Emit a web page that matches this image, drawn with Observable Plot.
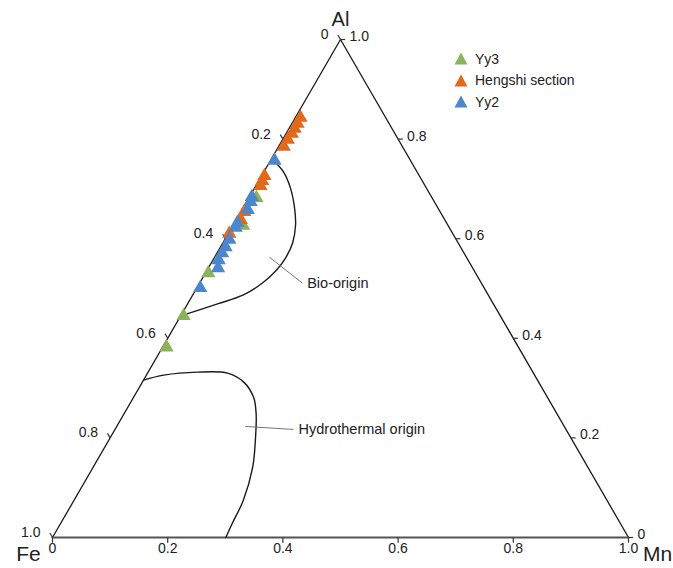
<!DOCTYPE html>
<html>
<head>
<meta charset="utf-8">
<script src="https://cdn.jsdelivr.net/npm/d3@7"></script>
<script src="https://cdn.jsdelivr.net/npm/@observablehq/plot@0.6"></script>
<style>
  html, body { margin: 0; padding: 0; background: #fff; }
  #wrap { position: relative; width: 673px; height: 568px; font-family: "Liberation Sans", Arial, sans-serif; }
  #legend { position: absolute; left: 454px; top: 48px; font-size: 14px; color: #222; }
  #legend .item { display: flex; align-items: center; height: 21.5px; }
  #legend svg { margin-right: 7px; }
</style>
</head>
<body>
<div id="wrap"><div id="legend"></div></div>
<script>
// ---- data (ternary compositions: Al and Mn fractions; Fe = 1 - Al - Mn) ----
const seriesNames = ["Yy3", "Hengshi section", "Yy2"];
const seriesColors = ["#8db35a", "#e2691b", "#4c86cc"];

const yy3Al = [0.382, 0.445, 0.531, 0.626, 0.682];
const yy3Mn = [0.007, 0.005, 0.005, 0.018, 0.013];

const hengshiAl = [0.843, 0.831, 0.821, 0.811, 0.799, 0.785, 0.726, 0.716, 0.706, 0.654, 0.638, 0.610];
const hengshiMn = [0.009, 0.010, 0.010, 0.010, 0.009, 0.009, 0.005, 0.006, 0.008, 0.006, 0.008, 0.002];

const yy2Al = [0.757, 0.684, 0.674, 0.658, 0.632, 0.622, 0.598, 0.583, 0.571, 0.557, 0.541, 0.501];
const yy2Mn = [0.007, 0.004, 0.007, 0.010, 0.005, 0.007, 0.008, 0.009, 0.009, 0.010, 0.017, 0.006];

// field boundaries
const bioAl = [0.761, 0.734, 0.702, 0.664, 0.628, 0.592, 0.561, 0.535, 0.511, 0.487, 0.469, 0.445];
const bioMn = [0.000, 0.034, 0.062, 0.088, 0.108, 0.121, 0.124, 0.120, 0.109, 0.088, 0.052, 0.000];

const hydroAl = [0.316, 0.326, 0.332, 0.330, 0.312, 0.282, 0.249, 0.201, 0.141, 0.074, 0.028, 0.000];
const hydroMn = [0.000, 0.030, 0.086, 0.139, 0.176, 0.208, 0.229, 0.252, 0.277, 0.294, 0.298, 0.301];

// annotation leaders and labels
const annoText = ["Bio-origin", "Hydrothermal origin"];
const annoFromAl = [0.563, 0.223], annoFromMn = [0.095, 0.223];
const annoToAl = [0.511, 0.217], annoToMn = [0.178, 0.310];

const tickValues = [0, 0.2, 0.4, 0.6, 0.8, 1.0];
const tickLabels = ["0", "0.2", "0.4", "0.6", "0.8", "1.0"];
const cornerNames = ["Fe", "Mn", "Al"];

// ---- ternary projection ----
const S3 = Math.sqrt(3) / 2;
const px = (al, mn) => mn + al / 2;
const py = (al) => al * S3;

const points = [];
[[yy3Al, yy3Mn], [hengshiAl, hengshiMn], [yy2Al, yy2Mn]].forEach(([A, M], i) => {
  A.forEach((a, j) => points.push({series: seriesNames[i], Al: a, Mn: M[j], Fe: 1 - a - M[j], x: px(a, M[j]), y: py(a)}));
});
const bio = bioAl.map((a, i) => ({x: px(a, bioMn[i]), y: py(a)}));
const hydro = hydroAl.map((a, i) => ({x: px(a, hydroMn[i]), y: py(a)}));

const corners = [{x: 0, y: 0}, {x: 1, y: 0}, {x: 0.5, y: S3}];
const sides = [corners[0], corners[2], corners[1]];
const bottom = [corners[0], corners[1]];

const L = 0.009; // tick length (data units)
const bottomTicks = tickValues.map((t, i) => ({x: t, y: 0, x2: t, y2: -L, label: tickLabels[i]}));
// left edge: Fe fraction (0 at top -> 1 at bottom)
const leftTicks = tickValues.map((t, i) => {
  const al = 1 - t; const x = px(al, 0), y = py(al);
  return {x, y, x2: x - 0.5 * L, y2: y + S3 * L, label: tickLabels[i]};
});
// right edge: Al fraction
const rightTicks = tickValues.map((t, i) => {
  const x = px(t, 1 - t), y = py(t);
  return {x, y, x2: x + L * 0.9, y2: y, label: tickLabels[i]};
});

const annos = annoText.map((s, i) => ({
  text: s,
  x1: px(annoFromAl[i], annoFromMn[i]), y1: py(annoFromAl[i]),
  x2: px(annoToAl[i], annoToMn[i]), y2: py(annoToAl[i])
}));

const font = "Liberation Sans, Arial, sans-serif";

const chart = Plot.plot({
  width: 673,
  height: 568,
  marginLeft: 52,
  marginRight: 45,
  marginTop: 39,
  marginBottom: 31,
  style: {fontFamily: font, background: "white", overflow: "visible"},
  x: {domain: [0, 1], axis: null},
  y: {domain: [0, S3], axis: null},
  color: {domain: seriesNames, range: seriesColors},
  marks: [
    Plot.line(sides, {x: "x", y: "y", stroke: "#1a1a1a", strokeWidth: 1.3}),
    Plot.line(bottom, {x: "x", y: "y", stroke: "#555", strokeWidth: 2}),
    Plot.link(bottomTicks, {x1: "x", y1: "y", x2: "x2", y2: "y2", stroke: "#333", strokeWidth: 1.2}),
    Plot.link(leftTicks, {x1: "x", y1: "y", x2: "x2", y2: "y2", stroke: "#333", strokeWidth: 1.2}),
    Plot.link(rightTicks, {x1: "x", y1: "y", x2: "x2", y2: "y2", stroke: "#333", strokeWidth: 1.2}),
    Plot.text(bottomTicks, {x: "x", y: "y", text: "label", dy: 11, fontSize: 14, fill: "#222"}),
    Plot.text(leftTicks, {x: "x", y: "y", text: "label", dx: -12, dy: -5, textAnchor: "end", fontSize: 14, fill: "#222"}),
    Plot.text(rightTicks, {x: "x", y: "y", text: "label", dx: 9, dy: -3, textAnchor: "start", fontSize: 14, fill: "#222"}),
    Plot.text([cornerNames[0]], {x: corners[0].x, y: corners[0].y, text: d => d, dx: -24, dy: 17, fontSize: 21, fill: "#222"}),
    Plot.text([cornerNames[1]], {x: corners[1].x, y: corners[1].y, text: d => d, dx: 29, dy: 17, fontSize: 21, fill: "#222"}),
    Plot.text([cornerNames[2]], {x: corners[2].x, y: corners[2].y, text: d => d, dy: -20, fontSize: 20, fill: "#222"}),
    Plot.line(bio, {x: "x", y: "y", curve: "catmull-rom", stroke: "#1a1a1a", strokeWidth: 1.4}),
    Plot.line(hydro, {x: "x", y: "y", curve: "catmull-rom", stroke: "#1a1a1a", strokeWidth: 1.4}),
    Plot.link(annos, {x1: "x1", y1: "y1", x2: "x2", y2: "y2", stroke: "#666", strokeWidth: 0.9}),
    Plot.text(annos, {x: "x2", y: "y2", text: "text", dx: 5, textAnchor: "start", fontSize: 14.5, fill: "#222"}),
    Plot.dot(points, {x: "x", y: "y", fill: "series", symbol: "triangle", r: 5.3, stroke: "none"})
  ]
});
document.getElementById("wrap").prepend(chart);
chart.style.position = "absolute";
chart.style.left = "0";
chart.style.top = "0";

const legend = document.getElementById("legend");
seriesNames.forEach((name, i) => {
  const item = document.createElement("div");
  item.className = "item";
  item.innerHTML = `<svg width="14" height="13" viewBox="0 0 14 13"><path d="M7 0.5 L13.5 12.5 L0.5 12.5 Z" fill="${seriesColors[i]}"/></svg><span>${name}</span>`;
  legend.appendChild(item);
});
</script>
</body>
</html>
